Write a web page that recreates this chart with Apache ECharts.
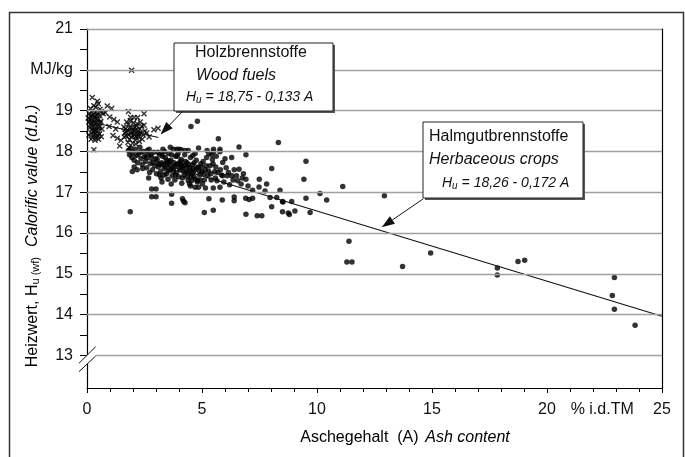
<!DOCTYPE html>
<html>
<head>
<meta charset="utf-8">
<script src="https://cdn.jsdelivr.net/npm/echarts@6/dist/echarts.min.js"></script>
<style>
  html, body { margin: 0; padding: 0; background: #fff; }
  #chart { width: 685px; height: 457px; }
</style>
</head>
<body>
<div id="chart"></div>
<script>
// wood fuels (crosses): ash content % and calorific value MJ/kg
const woodAsh = [
  0.23, 0.45, 0.49, 0.30, 0.15, 0.38, 0.57, 0.62, 0.20, 0.35, 0.10, 0.28, 0.45, 0.55, 0.18, 0.33,
  0.40, 0.12, 0.25, 0.50, 0.60, 0.08, 0.20, 0.35, 0.45, 0.15, 0.28, 0.40, 0.55, 0.22, 0.32, 0.48,
  0.18, 0.30, 0.42, 0.55, 0.25, 0.38, 0.50, 0.62, 0.35, 0.30, 0.65, 0.70,
  0.88, 1.07, 0.99, 1.17, 1.32, 0.96, 1.13, 1.32, 1.42, 0.80, 1.25, 1.48,
  1.80, 1.94, 1.90, 2.05, 2.20, 2.48, 1.83, 1.60, 1.65, 1.70, 1.75, 1.80, 1.85, 1.90, 1.95, 2.00,
  2.05, 2.10, 2.15, 2.20, 2.25, 2.30, 2.35, 2.40, 2.45, 1.72, 1.88, 2.02, 2.18, 2.32, 1.62, 1.78,
  1.98, 2.12, 2.28, 2.48, 2.52, 1.68, 2.08, 2.38, 1.92, 2.22,
  2.91, 3.09, 2.60, 2.70,
  0.12, 0.22, 0.32, 0.42, 0.52, 0.08, 0.18, 0.28, 0.38, 0.48, 0.58, 0.05,
  1.70, 1.82, 1.96, 2.06, 2.16, 2.26, 1.86, 2.12
];
const woodHu = [
  19.32, 19.23, 19.17, 19.12, 19.05, 19.08, 19.03, 18.98, 18.98, 18.95, 18.92, 18.90, 18.92, 18.88, 18.85, 18.83,
  18.80, 18.78, 18.76, 18.78, 18.74, 18.72, 18.70, 18.68, 18.70, 18.65, 18.62, 18.60, 18.62, 18.55, 18.52, 18.50,
  18.45, 18.42, 18.40, 18.43, 18.35, 18.33, 18.30, 18.36, 18.27, 18.04, 18.55, 18.92,
  19.11, 19.05, 18.84, 18.78, 18.72, 18.61, 18.39, 18.32, 18.13, 18.95, 18.55, 18.27,
  18.98, 19.99, 18.83, 18.83, 18.83, 18.92, 18.09, 18.60, 18.45, 18.38, 18.52, 18.66, 18.30, 18.45, 18.58, 18.38,
  18.50, 18.28, 18.62, 18.42, 18.35, 18.55, 18.45, 18.30, 18.40, 18.72, 18.76, 18.70, 18.68, 18.72, 18.35, 18.22,
  18.20, 18.18, 18.24, 18.64, 18.50, 18.55, 18.60, 18.62, 18.35, 18.50,
  18.53, 18.57, 18.45, 18.35,
  18.58, 18.88, 18.72, 18.88, 18.58, 18.40, 18.30, 18.48, 18.52, 18.38, 18.70, 18.82,
  18.48, 18.40, 18.48, 18.40, 18.36, 18.44, 18.58, 18.52
];

// herbaceous crops (dots)
const herbAsh = [
  1.80, 1.85, 1.90, 1.95, 2.00, 2.05, 2.10, 2.15, 2.20, 2.25, 2.30, 2.35, 2.40, 2.45, 1.97, 1.88,
  2.50, 2.55, 2.60, 2.65, 2.70, 2.75, 2.80, 2.85, 2.90, 2.95,
  2.81, 3.00, 2.81, 3.00,
  3.05, 3.10, 3.15, 3.20, 3.25, 3.30, 3.35, 3.40, 3.45, 3.50, 3.55, 3.60, 3.65, 3.70, 3.75, 3.80,
  3.85, 3.90, 3.95, 4.00, 4.05, 4.10, 4.15, 4.20, 4.25, 4.30, 4.35, 4.40, 4.45, 4.50, 4.55, 4.60,
  4.65, 4.70, 4.75, 4.80, 4.85, 4.90, 4.95, 5.00,
  3.12, 3.28, 3.42, 3.58, 3.72, 3.88, 4.02, 4.18, 4.32, 4.48, 4.62, 4.78, 3.22, 3.52, 3.82, 4.12,
  3.38, 3.62, 4.40, 4.70, 4.85, 3.18, 3.48, 3.78, 4.08, 4.38,
  3.90, 4.10, 3.68, 3.68, 4.15, 4.20, 4.26, 4.50, 4.70, 4.85, 5.15, 4.55, 4.81, 4.52, 4.80,
  5.71, 6.61, 5.50, 5.78, 5.50, 5.78, 6.29, 6.91, 5.90, 6.61, 5.90, 6.10, 6.30, 6.50, 6.91, 5.49,
  5.78, 5.88, 6.40, 6.40, 5.30, 5.49, 5.10, 6.91, 6.90, 7.05, 7.20,
  5.05, 5.15, 5.20, 5.25, 5.35, 5.40, 5.45, 5.55, 5.60, 5.65, 5.80, 5.95, 6.05, 6.20, 6.40, 6.70,
  6.80, 5.30, 5.10, 6.00,
  2.05, 2.18, 2.32, 2.42, 2.58, 2.62, 2.72, 2.78, 2.88, 2.98, 3.02, 3.08, 3.16, 3.24, 3.32, 3.36,
  3.44, 3.54, 3.64, 3.68, 3.76, 3.84, 3.92, 3.98, 4.06, 4.14, 4.22, 4.28, 4.36, 4.42, 4.52, 4.58,
  4.66, 4.72, 4.88, 4.92, 4.98, 5.08, 5.18, 5.28, 5.38, 5.48, 5.58, 5.68, 5.85, 6.15, 6.35, 6.55,
  6.75, 3.26, 3.66, 4.46, 5.02, 2.68, 3.96, 4.26, 4.60, 5.22, 5.42, 5.62,
  7.49, 7.81, 7.48, 7.74, 7.96, 8.25, 8.52, 8.03, 7.40, 7.60, 8.32, 9.52, 8.03, 9.43, 8.39, 9.52,
  8.50, 8.90, 9.04, 8.75, 8.50, 8.80, 9.70, 7.20, 7.00,
  10.13, 10.42, 11.12, 12.93, 11.39, 11.30, 11.52,
  13.72, 14.94, 17.84, 17.84, 18.74, 19.03, 22.93, 22.84, 22.93, 23.83
];
const herbHu = [
  18.02, 17.92, 18.08, 17.85, 17.98, 17.78, 18.05, 17.90, 17.72, 17.95, 18.10, 17.82, 17.68, 18.00, 17.51, 16.52,
  17.88, 17.75, 17.60, 17.95, 18.05, 17.70, 17.85, 17.55, 17.98, 17.65,
  17.08, 17.08, 16.89, 16.89,
  17.80, 17.62, 17.92, 17.50, 17.72, 18.05, 17.58, 17.85, 17.45, 17.68, 17.95, 17.55, 17.78, 17.40, 18.05, 17.62,
  17.88, 17.48, 17.70, 18.05, 17.55, 17.80, 17.35, 17.65, 17.92, 17.50, 17.72, 17.28, 17.60, 17.85, 17.45, 17.68,
  17.38, 17.55, 17.78, 17.25, 17.62, 17.42, 17.70, 17.50,
  17.70, 17.88, 17.62, 17.75, 17.58, 17.68, 17.60, 17.52, 17.62, 17.52, 17.48, 17.60, 17.35, 17.32, 17.30, 17.22,
  18.00, 18.10, 18.02, 17.95, 18.08, 17.68, 17.78, 17.72, 17.68, 17.48,
  18.05, 18.04, 16.95, 16.73, 16.84, 16.78, 16.74, 17.15, 17.12, 17.12, 17.10, 17.28, 17.28, 18.61, 18.74,
  18.31, 18.11, 18.05, 18.05, 17.99, 17.99, 17.85, 17.92, 17.73, 17.56, 17.40, 17.40, 17.40, 17.40, 17.32, 17.10,
  17.12, 16.81, 16.88, 16.79, 16.84, 16.56, 16.50, 16.46, 16.85, 16.82, 16.85,
  17.75, 17.55, 17.85, 17.40, 17.65, 17.30, 17.80, 17.50, 17.62, 17.28, 17.55, 17.25, 17.60, 17.18, 17.55, 17.20,
  17.45, 17.95, 17.30, 17.82,
  17.62, 17.55, 17.98, 17.58, 17.85, 18.02, 17.48, 17.92, 17.72, 17.82, 17.45, 17.98, 17.42, 17.95, 17.68, 17.42,
  17.72, 17.52, 17.65, 17.92, 17.52, 17.42, 17.88, 17.38, 17.75, 17.62, 17.42, 17.75, 17.38, 17.68, 17.38, 17.58,
  17.72, 17.32, 17.52, 17.30, 17.62, 17.45, 17.65, 17.52, 17.45, 17.70, 17.35, 17.48, 17.42, 17.48, 17.30, 17.28,
  17.35, 17.25, 17.20, 17.20, 17.20, 17.35, 17.95, 18.02, 17.90, 18.02, 17.92, 17.88,
  17.32, 17.20, 17.13, 17.03, 16.87, 16.87, 16.76, 16.64, 16.42, 16.42, 18.22, 17.76, 17.58, 17.32, 17.05, 16.85,
  16.77, 16.77, 16.54, 16.49, 16.52, 16.45, 16.50, 17.05, 17.15,
  16.97, 16.81, 17.14, 16.91, 15.80, 15.29, 15.29,
  15.18, 15.51, 15.14, 14.97, 15.30, 15.33, 14.91, 14.47, 14.13, 13.74
];

// regression lines, end points as drawn
const woodFitAsh = [0.3, 3.1];
const woodFitHu = [18.71, 18.34];
const herbFitAsh = [1.8, 25];
const herbFitHu = [17.95, 13.96];

const xTickLabels = [0, 5, 10, 15, 20, 25];
const xUnitAt = 22.4;
const yTickLabels = [13, 14, 15, 16, 17, 18, 19, 20, 21];
const yTicks = [13, 13.5, 14, 14.5, 15, 15.5, 16, 16.5, 17, 17.5, 18, 18.5, 19, 19.5, 20, 20.5, 21];
const gridValues = [13, 14, 15, 16, 17, 18, 19, 20, 21];

const FONT = 'Liberation Sans, Arial, sans-serif';
const ink = '#111';

function pairs(xs, ys) {
  return xs.map(function (x, i) { return [x, ys[i]]; });
}

// arrow: shaft + filled head, tail/tip in pixels
function arrow(tail, tip) {
  var dx = tip[0] - tail[0], dy = tip[1] - tail[1];
  var l = Math.sqrt(dx * dx + dy * dy);
  var ux = dx / l, uy = dy / l;
  var hl = 13, hw = 4.5;
  var bx = tip[0] - ux * hl, by = tip[1] - uy * hl;
  return [{
    type: 'line', z: 20,
    shape: { x1: tail[0], y1: tail[1], x2: bx, y2: by },
    style: { stroke: ink, lineWidth: 1 }
  }, {
    type: 'polygon', z: 20,
    shape: { points: [tip, [bx - uy * hw, by + ux * hw], [bx + uy * hw, by - ux * hw]] },
    style: { fill: ink }
  }];
}

function box(x, y, w, h) {
  return [{
    type: 'rect', z: 18,
    shape: { x: x + 2, y: y + 2, width: w, height: h },
    style: { fill: '#555' }
  }, {
    type: 'rect', z: 19,
    shape: { x: x, y: y, width: w, height: h },
    style: { fill: '#fff', stroke: '#222', lineWidth: 1 }
  }];
}

function txt(x, y, text, size, italic, rich) {
  return {
    type: 'text', z: 21, x: x, y: y,
    style: {
      text: text, fill: ink, font: (italic ? 'italic ' : '') + size + 'px ' + FONT,
      textVerticalAlign: 'middle', rich: rich
    }
  };
}

const eqRich = {
  i: { fontSize: 14, fontStyle: 'italic', fontFamily: FONT, color: ink },
  s: { fontSize: 10, fontStyle: 'italic', fontFamily: FONT, color: ink, verticalAlign: 'bottom', padding: [6, 0, 0, 0] }
};

var chart = echarts.init(document.getElementById('chart'));

var graphics = [].concat(
  [{
    type: 'rect', z: 0,
    shape: { x: 9.5, y: 12.5, width: 674, height: 460 },
    style: { fill: 'none', stroke: '#333', lineWidth: 1.5 }
  }],
  box(174, 43, 159, 68),
  [
    txt(195, 53, 'Holzbrennstoffe', 16, false),
    txt(196, 76, 'Wood fuels', 16, true),
    txt(186, 97, '{i|H}{s|u}{i| = 18,75 - 0,133 A}', 14, true, eqRich)
  ],
  arrow([183, 111], [160.5, 134.5]),
  box(423, 122, 160, 76),
  [
    txt(429, 137, 'Halmgutbrennstoffe', 16, false),
    txt(429, 160, 'Herbaceous crops', 16, true),
    txt(442, 183, '{i|H}{s|u}{i| = 18,26 - 0,172 A}', 14, true, eqRich)
  ],
  arrow([423, 199], [381.7, 227.3]),
  // axis break on y at 13
  [{
    type: 'polygon', z: 15,
    shape: { points: [[79, 363.3], [95.7, 346.7], [95.7, 356], [79, 371.7]] },
    style: { fill: '#fff' }
  }, {
    type: 'line', z: 16,
    shape: { x1: 79, y1: 363.3, x2: 95.7, y2: 346.7 },
    style: { stroke: ink, lineWidth: 1 }
  }, {
    type: 'line', z: 16,
    shape: { x1: 79, y1: 371.7, x2: 95.7, y2: 356 },
    style: { stroke: ink, lineWidth: 1 }
  }],
  // axis names
  [{
    type: 'text', z: 21, x: 33, y: 236, rotation: Math.PI / 2,
    style: {
      text: '{a|Heizwert, H}{b|u (wf)}   {c|Calorific value (d.b.)}',
      align: 'center', verticalAlign: 'middle',
      rich: {
        a: { fontSize: 16, fontFamily: FONT, color: ink },
        b: { fontSize: 11, fontFamily: FONT, color: ink, verticalAlign: 'bottom', padding: [6, 0, 0, 0] },
        c: { fontSize: 16, fontStyle: 'italic', fontFamily: FONT, color: ink }
      }
    }
  }, {
    type: 'text', z: 21, x: 405, y: 438,
    style: {
      text: '{a|Aschegehalt  (A)}  {c|Ash content}',
      align: 'center', verticalAlign: 'middle',
      rich: {
        a: { fontSize: 16, fontFamily: FONT, color: ink },
        c: { fontSize: 16, fontStyle: 'italic', fontFamily: FONT, color: ink }
      }
    }
  }]
);

chart.setOption({
  animation: false,
  textStyle: { fontFamily: FONT },
  grid: { left: 87, right: 23, top: 29, bottom: 69 },
  xAxis: {
    type: 'value', min: 0, max: 25, interval: 5,
    axisLine: { show: true, lineStyle: { color: '#000', width: 1.2 } },
    axisTick: { show: true, length: 5, lineStyle: { color: '#000' } },
    minorTick: { show: true, splitNumber: 5, length: 4, lineStyle: { color: '#000' } },
    axisLabel: {
      customValues: xTickLabels.concat([xUnitAt]),
      formatter: function (v) { return v === xUnitAt ? '% i.d.TM' : String(v); },
      fontSize: 16, color: ink, margin: 14
    },
    splitLine: { show: false }
  },
  yAxis: [{
    type: 'value', min: 12.2, max: 21,
    axisLine: { show: true, lineStyle: { color: '#000', width: 1.2 } },
    axisTick: { show: true, customValues: yTicks, length: 7, lineStyle: { color: '#000' } },
    axisLabel: {
      customValues: yTickLabels,
      formatter: function (v) { return v === 20 ? 'MJ/kg' : String(v); },
      fontSize: 16, color: ink, margin: 14
    },
    splitLine: { show: false }
  }, {
    type: 'value', min: 12.2, max: 21, position: 'right',
    axisLine: { show: true, lineStyle: { color: '#000', width: 1.2 } },
    axisTick: { show: false }, axisLabel: { show: false }, splitLine: { show: false }
  }],
  series: [{
    type: 'line', data: [], z: 1, silent: true,
    markLine: {
      silent: true, symbol: ['none', 'none'], label: { show: false },
      lineStyle: { color: '#a0a0a0', width: 1.4, type: 'solid' },
      data: gridValues.map(function (v) { return { yAxis: v }; })
    }
  }, {
    type: 'scatter', z: 3,
    data: pairs(woodAsh, woodHu),
    symbol: 'path://M0,0L10,10M10,0L0,10',
    symbolSize: 5,
    itemStyle: { color: 'rgba(0,0,0,0)', borderColor: '#000', borderWidth: 1.4 }
  }, {
    type: 'scatter', z: 3,
    data: pairs(herbAsh, herbHu),
    symbol: 'circle', symbolSize: 5.5,
    itemStyle: { color: '#000' }
  }, {
    type: 'line', z: 4, symbol: 'none',
    data: pairs(woodFitAsh, woodFitHu),
    lineStyle: { color: ink, width: 1.1 }
  }, {
    type: 'line', z: 4, symbol: 'none',
    data: pairs(herbFitAsh, herbFitHu),
    lineStyle: { color: ink, width: 1.1 }
  }],
  graphic: graphics
});
</script>
</body>
</html>
